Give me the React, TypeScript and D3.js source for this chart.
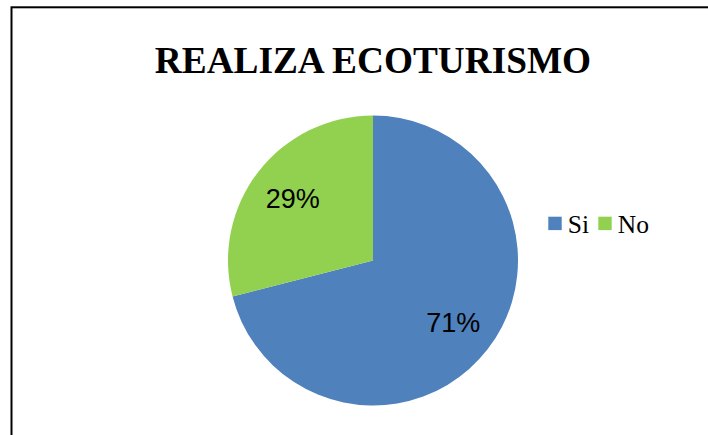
import React from "react";
import * as d3 from "d3";

const title = "REALIZA ECOTURISMO";
const categories = ["Si", "No"];
const values = [71, 29];
const colors = ["#4F81BD", "#92D050"];

const W = 708;
const H = 435;

export default function App() {
  const cx = 373;
  const cy = 260.5;
  const r = 145;

  const pie = d3
    .pie<number>()
    .sort(null)
    .value((d) => d);
  const arcs = pie(values);
  const arc = d3.arc<d3.PieArcDatum<number>>().innerRadius(0).outerRadius(r);
  const labelArc = d3
    .arc<d3.PieArcDatum<number>>()
    .innerRadius(r * 0.7)
    .outerRadius(r * 0.7);
  const total = d3.sum(values);
  const fmt = d3.format(".0%");

  const legendX = d3
    .scalePoint<string>()
    .domain(categories)
    .range([548.3, 598.3]);

  return (
    <svg
      width={W}
      height={H}
      style={{ position: "absolute", left: 0, top: 0, background: "#fff" }}
    >
      <rect x={0} y={0} width={W} height={H} fill="#fff" />
      <rect
        x={11.5}
        y={7.3}
        width={W + 20}
        height={H + 20}
        fill="none"
        stroke="#000"
        strokeWidth={2}
      />
      <text
        x={373}
        y={73}
        textAnchor="middle"
        fontFamily="'Liberation Serif', 'Times New Roman', serif"
        fontWeight="bold"
        fontSize={37.3}
        fill="#000"
      >
        {title}
      </text>
      <g transform={`translate(${cx},${cy})`}>
        {arcs.map((a, i) => (
          <path key={i} d={arc(a) ?? ""} fill={colors[i]} />
        ))}
        {arcs.map((a, i) => {
          const [x, y] = labelArc.centroid(a);
          return (
            <text
              key={"l" + i}
              x={x}
              y={y}
              dy="0.36em"
              textAnchor="middle"
              fontFamily="'Liberation Sans', Arial, sans-serif"
              fontSize={27}
              fill="#000"
            >
              {fmt(a.data / total)}
            </text>
          );
        })}
      </g>
      {categories.map((c, i) => {
        const x = legendX(c) ?? 0;
        return (
          <g key={c}>
            <rect x={x} y={216.7} width={13.4} height={13.4} fill={colors[i]} />
            <text
              x={x + 19.5}
              y={233.3}
              fontFamily="'Liberation Serif', 'Times New Roman', serif"
              fontSize={25.5}
              fill="#000"
            >
              {c}
            </text>
          </g>
        );
      })}
    </svg>
  );
}
